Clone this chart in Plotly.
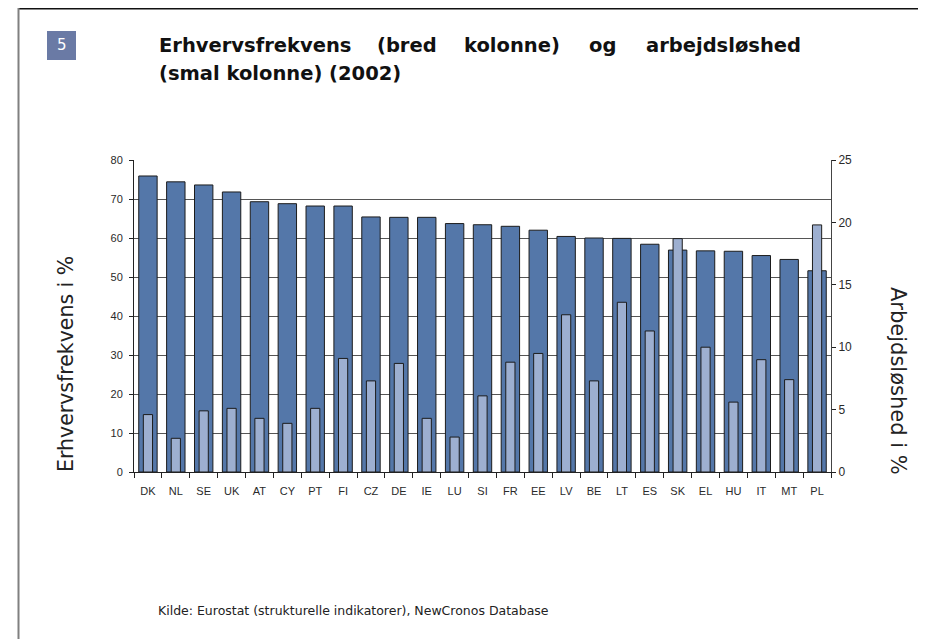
import plotly.graph_objects as go

countries = ["DK", "NL", "SE", "UK", "AT", "CY", "PT", "FI", "CZ", "DE", "IE", "LU", "SI",
             "FR", "EE", "LV", "BE", "LT", "ES", "SK", "EL", "HU", "IT", "MT", "PL"]
employment = [75.9, 74.4, 73.6, 71.8, 69.3, 68.8, 68.2, 68.2, 65.4, 65.3, 65.3, 63.7, 63.4,
              63.0, 62.0, 60.4, 60.0, 59.9, 58.4, 56.9, 56.7, 56.6, 55.5, 54.5, 51.6]
unemployment = [4.6, 2.7, 4.9, 5.1, 4.3, 3.9, 5.1, 9.1, 7.3, 8.7, 4.3, 2.8, 6.1,
                8.8, 9.5, 12.6, 7.3, 13.6, 11.3, 18.7, 10.0, 5.6, 9.0, 7.4, 19.8]

title_line1_words = ["Erhvervsfrekvens", "(bred", "kolonne)", "og", "arbejdsløshed"]
title_line2 = "(smal kolonne) (2002)"
left_title = "Erhvervsfrekvens i %"
right_title = "Arbejdsløshed i %"
source = "Kilde: Eurostat (strukturelle indikatorer), NewCronos Database"
badge = "5"

# page offset (browser body margin)
OFF = 8
W, H = 926 - OFF, 639 - OFF
L, R, T, B = 134 - OFF, 831 - OFF, 160 - OFF, 472 - OFF


def px(x):
    return (x - OFF - L) / (R - L)


def py(y):
    return (B - (y - OFF)) / (B - T)


fig = go.Figure()
fig.add_trace(go.Bar(x=countries, y=employment, width=0.66,
                     marker=dict(color="#5477A9", line=dict(color="#1c1c1c", width=1)),
                     showlegend=False, hoverinfo="x+y"))
fig.add_trace(go.Bar(x=countries, y=unemployment, width=0.33, yaxis="y2",
                     marker=dict(color="#9DAFD0", line=dict(color="#1c1c1c", width=1)),
                     showlegend=False, hoverinfo="x+y"))

tickfont = dict(family="Liberation Sans, Arial, sans-serif", size=11, color="#2a2a2a")

fig.update_layout(
    width=W, height=H,
    margin=dict(l=L, r=W - R, t=T, b=H - B, pad=0),
    paper_bgcolor="white", plot_bgcolor="white",
    barmode="overlay",
    xaxis=dict(type="category", tickson="boundaries", ticks="outside", ticklen=5,
               tickcolor="#222", showline=True, linecolor="#222", linewidth=1,
               showgrid=False, tickfont=tickfont, ticklabelstandoff=9),
    yaxis=dict(range=[0, 80], dtick=10, ticks="outside", ticklen=4, tickcolor="#222",
               showline=True, linecolor="#222", linewidth=1, showgrid=True,
               gridcolor="#555", gridwidth=1, zeroline=False, tickfont=tickfont,
               ticklabelstandoff=4),
    yaxis2=dict(range=[0, 25], dtick=5, overlaying="y", side="right", ticks="outside",
                ticklen=4, tickcolor="#222", showline=True, linecolor="#444", linewidth=1,
                showgrid=False, zeroline=False,
                tickfont=dict(family="Liberation Sans, Arial, sans-serif", size=12, color="#2a2a2a")),
)

shapes = [
    dict(type="line", xref="paper", yref="paper", x0=px(18), x1=px(926), y0=py(8.5), y1=py(8.5),
         line=dict(color="#111", width=2)),
    dict(type="line", xref="paper", yref="paper", x0=px(18.5), x1=px(18.5), y0=py(8), y1=py(639),
         line=dict(color="#808080", width=2)),
    dict(type="rect", xref="paper", yref="paper", x0=px(47), x1=px(76), y0=py(31), y1=py(60),
         line=dict(width=0), fillcolor="#6A7AA5"),
]
fig.update_layout(shapes=shapes)

tfont = dict(family="DejaVu Sans, Verdana, sans-serif", size=19.5, color="#111", weight="bold")
word_x = [157, 407, 512, 602, 803]
anchors = ["left", "center", "center", "center", "right"]
ann = []
for w, x, a in zip(title_line1_words, word_x, anchors):
    ann.append(dict(text=w, x=px(x), y=py(46), xref="paper", yref="paper",
                    xanchor=a, yanchor="middle", showarrow=False, font=tfont))
ann.append(dict(text=title_line2, x=px(157), y=py(73), xref="paper", yref="paper",
                xanchor="left", yanchor="middle", showarrow=False, font=tfont))
ann.append(dict(text=badge, x=px(61.5), y=py(45.5), xref="paper", yref="paper",
                xanchor="center", yanchor="middle", showarrow=False,
                font=dict(family="DejaVu Sans, sans-serif", size=15, color="white")))
ann.append(dict(text=left_title, x=px(66), y=py(364), xref="paper", yref="paper",
                xanchor="center", yanchor="middle", textangle=-90, showarrow=False,
                font=dict(family="DejaVu Sans, Verdana, sans-serif", size=20.5, color="#222")))
ann.append(dict(text=right_title, x=px(898), y=py(381), xref="paper", yref="paper",
                xanchor="center", yanchor="middle", textangle=90, showarrow=False,
                font=dict(family="DejaVu Sans, Verdana, sans-serif", size=21, color="#222")))
ann.append(dict(text=source, x=px(156), y=py(610), xref="paper", yref="paper",
                xanchor="left", yanchor="middle", showarrow=False,
                font=dict(family="DejaVu Sans, Verdana, sans-serif", size=12.5, color="#222")))
fig.update_layout(annotations=ann)

fig.write_html("out.html")
